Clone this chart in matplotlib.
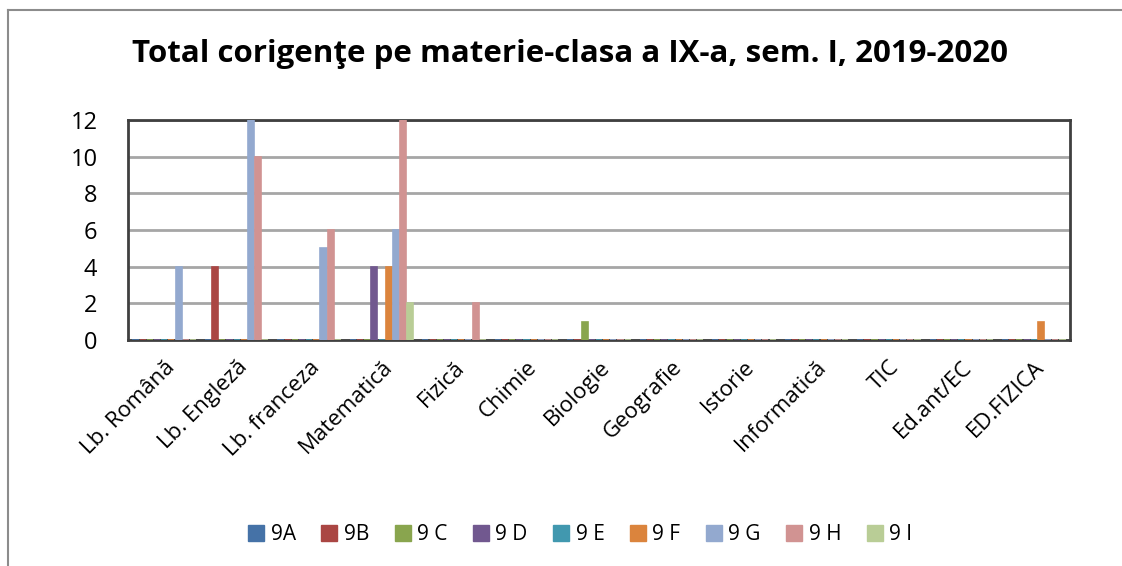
import numpy as np
import matplotlib
matplotlib.use('Agg')
import matplotlib.pyplot as plt
from matplotlib.lines import Line2D

plt.rcParams['font.family'] = ['Open Sans', 'DejaVu Sans']

subjects = ['Lb. Română', 'Lb. Engleză', 'Lb. franceza', 'Matematică', 'Fizică',
            'Chimie', 'Biologie', 'Geografie', 'Istorie', 'Informatică', 'TIC',
            'Ed.ant/EC', 'ED.FIZICA']
classes = ['9A', '9B', '9 C', '9 D', '9 E', '9 F', '9 G', '9 H', '9 I']
colors = ['#4572A7', '#AA4643', '#89A54E', '#71588F', '#4198AF',
          '#DB843D', '#93A9CF', '#D19392', '#B9CD96']

c_9A = [0, 0, 0, 0, 0, 0, 0, 0, 0, 0, 0, 0, 0]
c_9B = [0, 4, 0, 0, 0, 0, 0, 0, 0, 0, 0, 0, 0]
c_9C = [0, 0, 0, 0, 0, 0, 1, 0, 0, 0, 0, 0, 0]
c_9D = [0, 0, 0, 4, 0, 0, 0, 0, 0, 0, 0, 0, 0]
c_9E = [0, 0, 0, 0, 0, 0, 0, 0, 0, 0, 0, 0, 0]
c_9F = [0, 0, 0, 4, 0, 0, 0, 0, 0, 0, 0, 0, 1]
c_9G = [4, 12, 5, 6, 0, 0, 0, 0, 0, 0, 0, 0, 0]
c_9H = [0, 10, 6, 12, 2, 0, 0, 0, 0, 0, 0, 0, 0]
c_9I = [0, 0, 0, 2, 0, 0, 0, 0, 0, 0, 0, 0, 0]
series = [c_9A, c_9B, c_9C, c_9D, c_9E, c_9F, c_9G, c_9H, c_9I]

fig = plt.figure(figsize=(11.22, 5.66), dpi=100)
ax = fig.add_axes([128 / 1122, 1 - 340 / 566, (1070 - 128) / 1122, (340 - 120) / 566])

x = np.arange(len(subjects))
bw = 0.099
for k, (vals, col) in enumerate(zip(series, colors)):
    pos = x + (k - 4) * bw
    ax.bar(pos, vals, width=bw * 0.85, color=col, edgecolor=col, linewidth=1.2, zorder=3)

ax.set_xlim(-0.5, len(subjects) - 0.5)
ax.set_ylim(0, 12)
ax.set_yticks(range(0, 13, 2))
ax.yaxis.grid(True, color='#a6a6a6', linewidth=2, zorder=0)
ax.set_axisbelow(True)
for s in ax.spines.values():
    s.set_color('#404040')
    s.set_linewidth(2)
ax.tick_params(axis='y', length=0, labelsize=17, pad=22)
ax.tick_params(axis='x', length=0, labelsize=16, pad=12)
ax.set_xticks(x)
ax.set_xticklabels(subjects, rotation=45, ha='right', rotation_mode='anchor')

fig.text(0.508, 1 - 54 / 566, 'Total corigenţe pe materie-clasa a IX-a, sem. I, 2019-2020',
         ha='center', va='center', fontsize=22.5, fontweight='bold')

handles = [Line2D([], [], marker='s', linestyle='', markersize=11, color=c) for c in colors]
fig.legend(handles, classes, loc='center', bbox_to_anchor=(0.517, 1 - 535 / 566),
           ncol=9, frameon=False, fontsize=15, handletextpad=0.3, columnspacing=1.2,
           handlelength=0.8)

# outer chart border (left and top visible)
fig.add_artist(Line2D([8 / 1122, 8 / 1122], [0, 1 - 10 / 566], color='#8c8c8c', linewidth=1.5))
fig.add_artist(Line2D([8 / 1122, 1], [1 - 10 / 566, 1 - 10 / 566], color='#8c8c8c', linewidth=1.5))

fig.savefig('out.png', dpi=100)
